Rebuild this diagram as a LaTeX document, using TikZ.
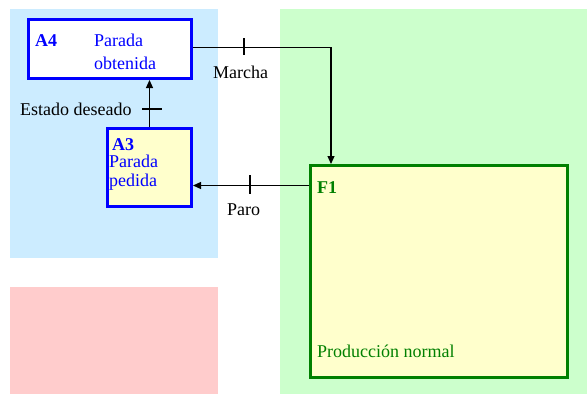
\documentclass[tikz,border=0pt]{standalone}
\usepackage{fontspec}
\setmainfont{Liberation Serif}
\usetikzlibrary{arrows.meta,calc}
\definecolor{zoneblue}{HTML}{CCECFF}
\definecolor{zonepink}{HTML}{FFCCCC}
\definecolor{zonegreen}{HTML}{CCFFCC}
\definecolor{boxyellow}{HTML}{FFFFCC}
\definecolor{stepblue}{HTML}{0000FF}
\definecolor{stepgreen}{HTML}{008000}
\tikzset{
  every node/.style={font=\fontsize{18}{22}\selectfont},
  statebox/.style={draw, line width=3pt, inner sep=0pt},
  bluebox/.style={statebox, draw=stepblue},
  greenbox/.style={statebox, draw=stepgreen, fill=boxyellow},
  txt/.style={inner sep=0pt, anchor=base west},
  link/.style={line width=1.2pt, -{Triangle[length=8pt,width=7pt]}},
  tick/.style={line width=1.4pt},
}
\begin{document}
\begin{tikzpicture}[x=1pt, y=-1pt]
  \useasboundingbox (0,0) rectangle (587,394);
  % background zones
  \fill[zoneblue]  (10,9)   rectangle (218,258);
  \fill[zonepink]  (10,287) rectangle (218,394);
  \fill[zonegreen] (280,9)  rectangle (587,394);

  % states
  \node[bluebox, fill=white, minimum width=163pt, minimum height=59pt] (A4) at (110,49) {};
  \node[bluebox, fill=boxyellow, minimum width=84pt, minimum height=78pt] (A3) at (149.5,167.5) {};
  \node[greenbox, minimum width=257pt, minimum height=212pt] (F1) at (439,271.5) {};

  % state texts
  \node[txt, text=stepblue, font=\fontsize{18}{22}\selectfont\bfseries] (A4id) at (35,46.5) {A4};
  \node[txt, text=stepblue] (A4l1) at (94,46.5) {Parada};
  \node[txt, text=stepblue] (A4l2) at (94,69) {obtenida};
  \node[txt, text=stepblue, font=\fontsize{18}{22}\selectfont\bfseries] (A3id) at (112,150) {A3};
  \node[txt, text=stepblue] (A3l1) at (109,167) {Parada};
  \node[txt, text=stepblue] (A3l2) at (109,186) {pedida};
  \node[txt, text=stepgreen, font=\fontsize{18}{22}\selectfont\bfseries] (F1id) at (317,193) {F1};
  \node[txt, text=stepgreen] (F1l) at (317,357) {Producción normal};

  % transitions
  \coordinate (mk) at (331,47.5);
  \coordinate (pr) at (0,185.5);
  \draw[link] (A4.east |- mk) -- (mk) -- (F1.north -| mk);
  \draw[link] (F1.west |- pr) -- (A3.east |- pr);
  \draw[link] (A3.north) -- (A4.south -| A3.north);

  % transition bars
  \coordinate (t1) at (244,46.5);
  \coordinate (t2) at (250,184.5);
  \coordinate (t3) at (152,109);
  \draw[tick] ($(t1)+(0,-8.5)$) -- ($(t1)+(0,8.5)$);
  \draw[tick] ($(t2)+(0,-9.5)$) -- ($(t2)+(0,9.5)$);
  \draw[tick] ($(t3)+(-10,0)$) -- ($(t3)+(10,0)$);

  % transition labels
  \node[txt] (lm) at (213,78) {Marcha};
  \node[txt] (lp) at (227,215) {Paro};
  \node[txt] (le) at (20,115) {Estado deseado};
\end{tikzpicture}
\end{document}
